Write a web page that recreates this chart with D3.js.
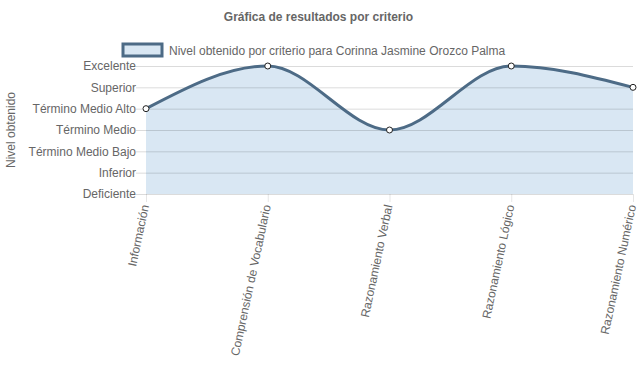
<!DOCTYPE html>
<html>
<head>
<meta charset="utf-8">
<script src="https://cdnjs.cloudflare.com/ajax/libs/d3/7.8.5/d3.min.js"></script>
<style>
  body { margin: 0; background: #fff; }
  text { font-family: "Liberation Sans", Arial, Helvetica, sans-serif; fill: #666; }
</style>
</head>
<body>
<script>
// categorias y valores (1 = Deficiente ... 7 = Excelente)
var criterios = ["Información", "Comprensión de Vocabulario", "Razonamiento Verbal", "Razonamiento Lógico", "Razonamiento Numérico"];
var niveles = [5, 7, 4, 7, 6];
var nivelLabels = ["Deficiente", "Inferior", "Término Medio Bajo", "Término Medio", "Término Medio Alto", "Superior", "Excelente"];
var titulo = "Gráfica de resultados por criterio";
var leyenda = "Nivel obtenido por criterio para Corinna Jasmine Orozco Palma";

var W = 637, H = 389;
var plotL = 146, plotR = 633, plotT = 66, plotB = 194;

var svg = d3.select("body").append("svg")
  .attr("width", W)
  .attr("height", H);

var x = d3.scalePoint().domain(criterios).range([plotL, plotR]);
var y = d3.scaleLinear().domain([1, 7]).range([plotB, plotT]);

// title
svg.append("text")
  .attr("x", W / 2).attr("y", 21)
  .attr("text-anchor", "middle")
  .style("font-size", "12px").style("font-weight", "bold")
  .text(titulo);

// legend
svg.append("rect")
  .attr("x", 123).attr("y", 44).attr("width", 39).attr("height", 12)
  .attr("fill", "rgba(217,231,243,1)")
  .attr("stroke", "#4d6b86").attr("stroke-width", 3);
svg.append("text")
  .attr("x", 169).attr("y", 54.5)
  .style("font-size", "12px")
  .text(leyenda);

// y title
svg.append("text")
  .attr("transform", "translate(15," + ((plotT + plotB) / 2) + ") rotate(-90)")
  .attr("text-anchor", "middle")
  .style("font-size", "12px")
  .text("Nivel obtenido");

// area
var area = d3.area()
  .x(function (d, i) { return x(criterios[i]); })
  .y0(plotB)
  .y1(function (d) { return y(d); })
  .curve(d3.curveMonotoneX);

svg.append("path")
  .datum(niveles)
  .attr("d", area)
  .attr("fill", "#d9e7f3");

// grid
var yAxis = d3.axisLeft(y).tickValues(d3.range(1, 8))
  .tickFormat(function (d) { return nivelLabels[d - 1]; })
  .tickSize(-(plotR - plotL)).tickPadding(0);
var gy = svg.append("g").attr("transform", "translate(" + plotL + ",0)").call(yAxis);
gy.select(".domain").remove();
gy.selectAll(".tick line").attr("stroke", "rgba(0,0,0,0.14)").attr("x1", -10);
gy.selectAll(".tick text").attr("x", -10).style("font-size", "12px").attr("fill", "#666")
  .style("font-family", "Liberation Sans, Arial, sans-serif");

var xAxis = d3.axisBottom(x).tickSize(-(plotB - plotT)).tickPadding(0);
var gx = svg.append("g").attr("transform", "translate(0," + plotB + ")").call(xAxis);
gx.select(".domain").remove();
gx.selectAll(".tick line").attr("stroke", "rgba(0,0,0,0.1)").attr("y2", 8);
gx.selectAll(".tick text")
  .attr("y", 0).attr("dy", "0.3em")
  .attr("text-anchor", "end")
  .attr("transform", "translate(-1,11) rotate(-78)")
  .style("font-size", "12px").attr("fill", "#666")
  .style("font-family", "Liberation Sans, Arial, sans-serif");

// line
var line = d3.line()
  .x(function (d, i) { return x(criterios[i]); })
  .y(function (d) { return y(d); })
  .curve(d3.curveMonotoneX);

svg.append("path")
  .datum(niveles)
  .attr("d", line)
  .attr("fill", "none")
  .attr("stroke", "#4d6b86")
  .attr("stroke-width", 3);

// points
svg.selectAll(".pt").data(niveles).enter().append("circle")
  .attr("class", "pt")
  .attr("cx", function (d, i) { return x(criterios[i]); })
  .attr("cy", function (d) { return y(d); })
  .attr("r", 3)
  .attr("fill", "#fff")
  .attr("stroke", "#222")
  .attr("stroke-width", 1);
</script>
</body>
</html>
